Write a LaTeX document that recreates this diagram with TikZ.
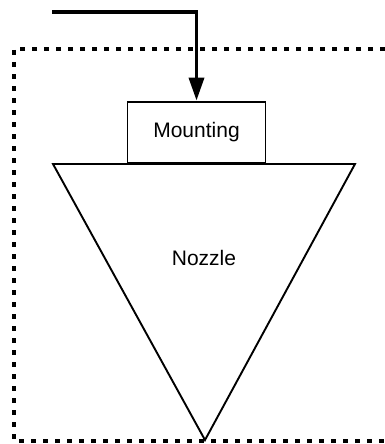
\documentclass[tikz,border=0pt]{standalone}
\usepackage{fontspec}
\setmainfont{Liberation Sans}
\usetikzlibrary{arrows.meta}
\begin{document}
\begin{tikzpicture}[x=1pt, y=-1pt,
  label text/.style={font=\fontsize{21}{25}\selectfont},
  partbox/.style={draw, line width=1.9pt, inner sep=0pt, label text},
  outline/.style={line width=1.9pt, line join=miter},
  feed/.style={line width=3.6pt, line join=miter, -{Triangle[length=23pt, width=15pt]}},
  boundary/.style={line width=4pt, dash pattern=on 5pt off 7pt}]
\useasboundingbox (0,0) rectangle (385,444);

% system boundary, open on the right
\coordinate (bndTR) at (385,49);
\coordinate (bndTL) at (14,49);
\coordinate (bndBL) at (14,441);
\coordinate (bndBR) at (385,441);
\draw[boundary] (bndTR) -- (bndTL) -- (bndBL) -- (bndBR);

% mounting block
\node[partbox, minimum width=138pt, minimum height=61.5pt] (mounting) at (196.5,132.3) {Mounting};

% nozzle cone
\coordinate (coneL) at (53,164);
\coordinate (coneR) at (355,164);
\coordinate (coneTip) at (205,440);
\draw[outline] (coneL) -- (coneR) -- (coneTip) -- cycle;
\node[label text] (nozzle) at (204,258) {Nozzle};

% supply line into the mounting
\coordinate (supply) at (52,12.3);
\draw[feed] (supply) -| (mounting.north);
\end{tikzpicture}
\end{document}
